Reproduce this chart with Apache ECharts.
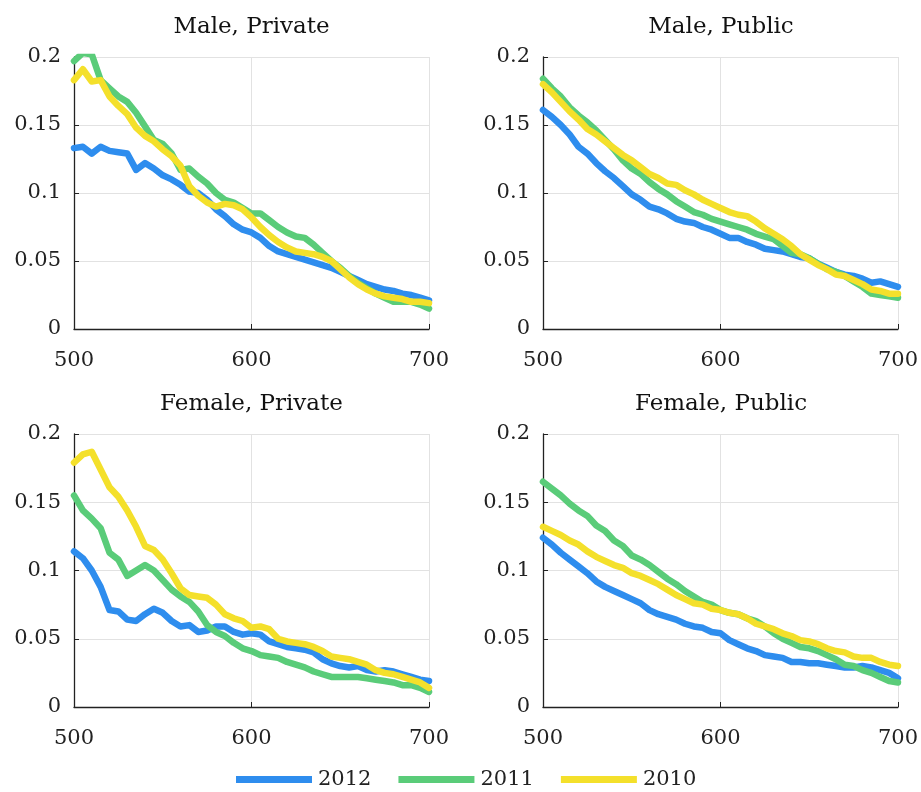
<!DOCTYPE html>
<html>
<head>
<meta charset="utf-8">
<script src="https://cdn.jsdelivr.net/npm/echarts@6/dist/echarts.min.js"></script>
<style>
html,body{margin:0;padding:0;background:#fff;}
#chart{width:921px;height:792px;}
</style>
</head>
<body>
<div id="chart"></div>
<script>
// x values (test score)
const SCORES = [500,505,510,515,520,525,530,535,540,545,550,555,560,565,570,575,580,585,590,595,600,605,610,615,620,625,630,635,640,645,650,655,660,665,670,675,680,685,690,695,700];

const SERIES_NAMES = ['2012', '2011', '2010'];
const PANEL_TITLES = ['Male, Private', 'Male, Public', 'Female, Private', 'Female, Public'];
const X_TICKS = [500, 600, 700];
const Y_TICKS = [0, 0.05, 0.1, 0.15, 0.2];

// Male, Private
const malePrivate2012 = [0.133,0.134,0.129,0.134,0.131,0.130,0.129,0.117,0.122,0.118,0.113,0.110,0.106,0.101,0.100,0.095,0.088,0.083,0.077,0.073,0.071,0.067,0.061,0.057,0.055,0.053,0.051,0.049,0.047,0.045,0.042,0.039,0.036,0.033,0.031,0.029,0.028,0.026,0.025,0.023,0.021];
const malePrivate2011 = [0.197,0.203,0.202,0.183,0.177,0.171,0.167,0.159,0.149,0.139,0.136,0.129,0.117,0.118,0.112,0.107,0.100,0.095,0.093,0.089,0.085,0.085,0.080,0.075,0.071,0.068,0.067,0.062,0.056,0.050,0.045,0.039,0.034,0.030,0.026,0.023,0.020,0.020,0.020,0.018,0.015];
const malePrivate2010 = [0.183,0.191,0.182,0.183,0.171,0.164,0.158,0.148,0.142,0.138,0.132,0.127,0.120,0.105,0.098,0.093,0.090,0.092,0.091,0.088,0.082,0.075,0.069,0.064,0.060,0.057,0.056,0.055,0.053,0.050,0.044,0.038,0.033,0.029,0.026,0.024,0.023,0.022,0.020,0.020,0.019];

// Male, Public
const malePublic2012 = [0.161,0.156,0.150,0.143,0.134,0.129,0.122,0.116,0.111,0.105,0.099,0.095,0.090,0.088,0.085,0.081,0.079,0.078,0.075,0.073,0.070,0.067,0.067,0.064,0.062,0.059,0.058,0.057,0.055,0.053,0.052,0.048,0.045,0.042,0.040,0.039,0.037,0.034,0.035,0.033,0.031];
const malePublic2011 = [0.184,0.177,0.171,0.163,0.157,0.152,0.146,0.139,0.132,0.124,0.118,0.114,0.108,0.103,0.099,0.094,0.090,0.086,0.084,0.081,0.079,0.077,0.075,0.073,0.070,0.068,0.066,0.061,0.056,0.055,0.052,0.048,0.044,0.042,0.039,0.035,0.031,0.026,0.025,0.024,0.023];
const malePublic2010 = [0.180,0.174,0.167,0.160,0.154,0.147,0.143,0.138,0.133,0.128,0.124,0.119,0.114,0.111,0.107,0.106,0.102,0.099,0.095,0.092,0.089,0.086,0.084,0.083,0.079,0.074,0.070,0.066,0.061,0.055,0.051,0.047,0.044,0.040,0.039,0.036,0.033,0.029,0.028,0.026,0.026];

// Female, Private
const femalePrivate2012 = [0.114,0.109,0.100,0.088,0.071,0.070,0.064,0.063,0.068,0.072,0.069,0.063,0.059,0.060,0.055,0.056,0.059,0.059,0.055,0.053,0.054,0.053,0.048,0.046,0.044,0.043,0.042,0.040,0.035,0.032,0.030,0.029,0.030,0.027,0.026,0.027,0.026,0.024,0.022,0.020,0.019];
const femalePrivate2011 = [0.155,0.144,0.138,0.131,0.113,0.108,0.096,0.100,0.104,0.100,0.093,0.086,0.081,0.077,0.070,0.060,0.055,0.052,0.047,0.043,0.041,0.038,0.037,0.036,0.033,0.031,0.029,0.026,0.024,0.022,0.022,0.022,0.022,0.021,0.020,0.019,0.018,0.016,0.016,0.014,0.011];
const femalePrivate2010 = [0.179,0.185,0.187,0.174,0.161,0.154,0.144,0.132,0.118,0.115,0.108,0.098,0.087,0.082,0.081,0.080,0.075,0.068,0.065,0.063,0.058,0.059,0.057,0.050,0.048,0.047,0.046,0.044,0.041,0.037,0.036,0.035,0.033,0.031,0.027,0.025,0.024,0.022,0.020,0.018,0.014];

// Female, Public
const femalePublic2012 = [0.124,0.119,0.113,0.108,0.103,0.098,0.092,0.088,0.085,0.082,0.079,0.076,0.071,0.068,0.066,0.064,0.061,0.059,0.058,0.055,0.054,0.049,0.046,0.043,0.041,0.038,0.037,0.036,0.033,0.033,0.032,0.032,0.031,0.030,0.029,0.029,0.030,0.029,0.027,0.025,0.021];
const femalePublic2011 = [0.165,0.160,0.155,0.149,0.144,0.140,0.133,0.129,0.122,0.118,0.111,0.108,0.104,0.099,0.094,0.090,0.085,0.081,0.077,0.075,0.071,0.069,0.068,0.065,0.063,0.059,0.054,0.050,0.047,0.044,0.043,0.041,0.038,0.035,0.031,0.030,0.027,0.025,0.022,0.019,0.018];
const femalePublic2010 = [0.132,0.129,0.126,0.122,0.119,0.114,0.110,0.107,0.104,0.102,0.098,0.096,0.093,0.090,0.086,0.082,0.079,0.076,0.075,0.072,0.071,0.069,0.068,0.065,0.061,0.059,0.057,0.054,0.052,0.049,0.048,0.046,0.043,0.041,0.040,0.037,0.036,0.036,0.033,0.031,0.030];

const PANELS = [
  [malePrivate2012, malePrivate2011, malePrivate2010],
  [malePublic2012, malePublic2011, malePublic2010],
  [femalePrivate2012, femalePrivate2011, femalePrivate2010],
  [femalePublic2012, femalePublic2011, femalePublic2010]
];

const COLORS = ['#2E8DEE', '#5ACC79', '#F4E02B'];
const FONT = 'DejaVu Serif';

const GRIDS = [
  {left: 74, top: 57, width: 355, height: 272},
  {left: 543, top: 57, width: 356, height: 272},
  {left: 74, top: 434, width: 355, height: 273},
  {left: 543, top: 434, width: 356, height: 273}
];

const titles = GRIDS.map((g, i) => ({
  text: PANEL_TITLES[i],
  left: g.left + g.width / 2,
  top: g.top - 41,
  textAlign: 'center',
  padding: 0,
  textStyle: {fontFamily: FONT, fontSize: 23, fontWeight: 'normal', color: '#111'}
}));

const axisLine = {show: true, lineStyle: {color: '#222', width: 1.3}};
const axisTick = {show: true, inside: true, length: 5, lineStyle: {color: '#222'}};
const splitLine = {show: true, lineStyle: {color: '#e2e2e2', width: 1}};

const xAxes = GRIDS.map((g, i) => ({
  type: 'value', gridIndex: i, min: X_TICKS[0], max: X_TICKS[X_TICKS.length - 1], interval: 100,
  axisLine, axisTick, splitLine,
  axisLabel: {fontFamily: FONT, fontSize: 21, color: '#222', margin: 12, padding: [9, 0, 0, 0]}
}));
const yAxes = GRIDS.map((g, i) => ({
  type: 'value', gridIndex: i, min: Y_TICKS[0], max: Y_TICKS[Y_TICKS.length - 1], interval: 0.05,
  axisLine, axisTick, splitLine,
  axisLabel: {fontFamily: FONT, fontSize: 21, color: '#222', margin: 13}
}));

const series = [];
PANELS.forEach((panel, pi) => {
  panel.forEach((vals, si) => {
    series.push({
      name: SERIES_NAMES[si],
      type: 'line',
      xAxisIndex: pi, yAxisIndex: pi,
      data: SCORES.map((s, k) => [s, vals[k]]),
      showSymbol: false,
      symbol: 'none',
      clip: true,
      lineStyle: {color: COLORS[si], width: 6.5, join: 'round', cap: 'round'},
      itemStyle: {color: COLORS[si]},
      emphasis: {disabled: true},
      animation: false
    });
  });
});

const chart = echarts.init(document.getElementById('chart'), null, {renderer: 'canvas'});
chart.setOption({
  backgroundColor: '#fff',
  animation: false,
  title: titles,
  grid: GRIDS,
  xAxis: xAxes,
  yAxis: yAxes,
  legend: {
    data: SERIES_NAMES,
    left: 231, top: 764,
    icon: 'rect', itemWidth: 76, itemHeight: 7, itemGap: 27,
    textStyle: {fontFamily: FONT, fontSize: 21, color: '#222', padding: [0, 0, 0, 1]}
  },
  series
});
</script>
</body>
</html>
